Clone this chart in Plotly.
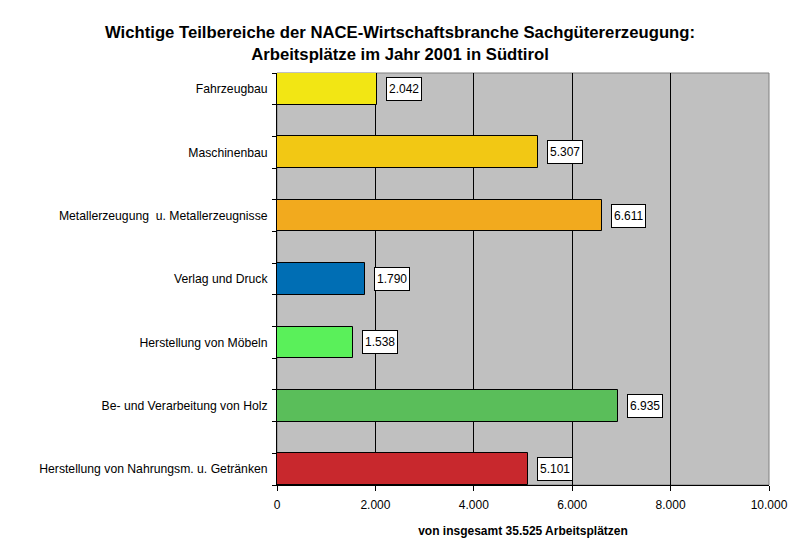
import plotly.graph_objects as go

# Data (top to bottom as shown in the chart)
categories = [
    "Fahrzeugbau",
    "Maschinenbau",
    "Metallerzeugung  u. Metallerzeugnisse",
    "Verlag und Druck",
    "Herstellung von Möbeln",
    "Be- und Verarbeitung von Holz",
    "Herstellung von Nahrungsm. u. Getränken",
]
jobs = [2042, 5307, 6611, 1790, 1538, 6935, 5101]
bar_colors = [
    "#F2E614",
    "#F2C814",
    "#F2AA1E",
    "#006EB4",
    "#5AF05A",
    "#5ABE5A",
    "#C8282D",
]
x_ticks = [0, 2000, 4000, 6000, 8000, 10000]

FONT = "Liberation Sans, Arial, sans-serif"

positions = list(range(len(categories)))


def de_number(v):
    return f"{v:,}".replace(",", ".")


fig = go.Figure()

fig.add_trace(
    go.Bar(
        x=jobs,
        y=positions,
        orientation="h",
        width=0.5,
        marker=dict(color=bar_colors, line=dict(color="black", width=1)),
        showlegend=False,
        hoverinfo="skip",
    )
)

# value labels in white boxes
for v, p in zip(jobs, positions):
    fig.add_annotation(
        x=v,
        y=p,
        text=de_number(v),
        showarrow=False,
        xanchor="left",
        xshift=9,
        height=18,
        bgcolor="white",
        bordercolor="black",
        borderwidth=1,
        borderpad=2,
        font=dict(family=FONT, size=12, color="black"),
    )

# plot area frame (top and right sides in gray)
fig.add_shape(
    type="rect",
    xref="paper",
    yref="paper",
    x0=0,
    y0=0,
    x1=1,
    y1=1,
    line=dict(color="#808080", width=1),
    layer="below",
)

fig.update_layout(
    width=800,
    height=554,
    margin=dict(l=277, r=31, t=73, b=69),
    paper_bgcolor="white",
    plot_bgcolor="#C0C0C0",
    separators=",.",
    font=dict(family=FONT, size=12, color="black"),
    title=dict(
        text="<b>Wichtige Teilbereiche der NACE-Wirtschaftsbranche Sachgütererzeugung:<br>"
        "Arbeitsplätze im Jahr 2001 in Südtirol</b>",
        x=0.5,
        xanchor="center",
        y=0.931,
        yanchor="top",
        font=dict(family=FONT, size=16.7, color="black"),
    ),
    xaxis=dict(
        range=[0, 10000],
        tickvals=x_ticks,
        ticktext=[de_number(t) for t in x_ticks],
        showgrid=True,
        gridcolor="black",
        gridwidth=1,
        zeroline=False,
        showline=True,
        linecolor="black",
        linewidth=1,
        ticks="outside",
        ticklen=5,
        tickcolor="black",
        ticklabelstandoff=4,
        tickfont=dict(family=FONT, size=12),
        title=dict(
            text="<b>von insgesamt 35.525 Arbeitsplätzen</b>",
            font=dict(family=FONT, size=12),
            standoff=15,
        ),
    ),
    yaxis=dict(
        range=[len(categories) - 0.75, -0.25],
        tickvals=positions,
        ticktext=categories,
        ticks="",
        showgrid=False,
        zeroline=False,
        showline=True,
        linecolor="black",
        linewidth=1,
        ticklabelstandoff=6,
        tickfont=dict(family=FONT, size=12.2),
        minor=dict(
            tick0=0.25,
            dtick=0.5,
            ticks="outside",
            ticklen=4,
            tickcolor="black",
            showgrid=False,
        ),
    ),
    bargap=0,
)

fig.write_html(
    "out.html",
    config={"displayModeBar": False},
    post_script="document.body.style.margin='0';",
)
